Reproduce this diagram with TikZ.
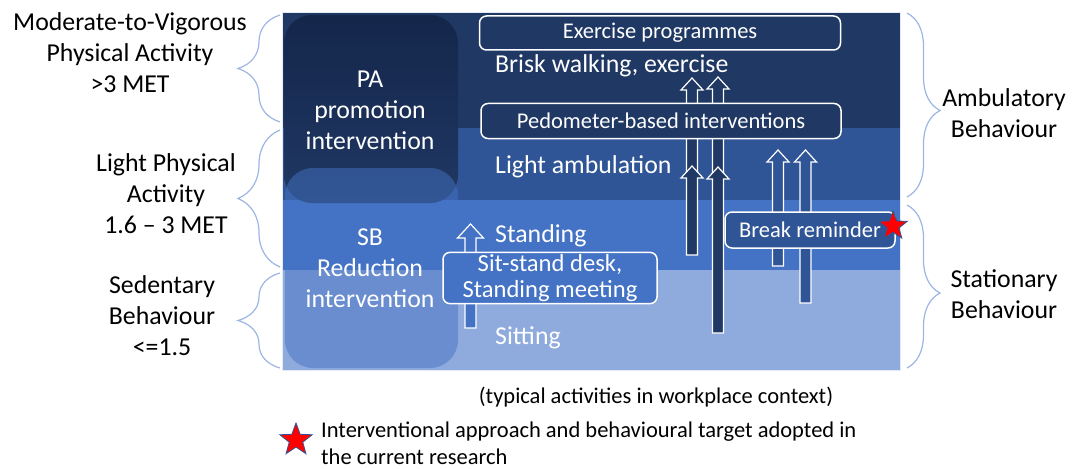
\documentclass[tikz,border=0pt]{standalone}
\usepackage{fontspec}
\setmainfont{Carlito}
\usetikzlibrary{calc,shapes.geometric,decorations.pathreplacing}

\definecolor{navy}{HTML}{203864}
\definecolor{ambu}{HTML}{2F5597}
\definecolor{stand}{HTML}{4472C4}
\definecolor{sit}{HTML}{8FAADC}
\definecolor{padark}{HTML}{14264A}
\definecolor{bracec}{HTML}{9DB5E3}

\newcommand{\lvlfont}{\fontsize{25.8}{31}\selectfont}
\newcommand{\boxfont}{\fontsize{22.5}{27}\selectfont}

\tikzset{
    lbl/.style={align=center, font=\lvlfont, inner sep=1pt},
    lvltxt/.style={lbl, text=white},
    ibox/.style={draw=white, line width=1.5pt, rounded corners=7pt,
        text=white, font=\boxfont, align=center, inner sep=2pt},
    brc/.style={draw=bracec, line width=1.2pt, decorate,
        decoration={brace, amplitude=#1}},
    % block arrow from a bottom point up to its tip: half head width, head length
    blockarr/.style 2 args={draw=white, line width=1.2pt, to path={
        ++(-5.5,0) -- ($(\tikztotarget)+(-5.5,#2)$) -- ($(\tikztotarget)+(-#1,#2)$)
        -- (\tikztotarget) -- ($(\tikztotarget)+(#1,#2)$) -- ($(\tikztotarget)+(5.5,#2)$)
        -- ($(\tikztostart)+(5.5,0)$) -- cycle}},
}

\begin{document}
\begin{tikzpicture}[x=1pt, y=-1pt]
        \useasboundingbox (0,0) rectangle (1075,468);

        % activity levels
        \fill[navy] (282,12) rectangle (900,128);
        \fill[ambu] (282,128) rectangle (900,200);
        \fill[stand] (282,200) rectangle (900,270);
        \fill[sit] (282,270) rectangle (900,370);
        \draw[white!75!sit, line width=0.6pt] (282,12) rectangle (900,370);

        % the two intervention types
        \shade[top color=padark, bottom color=navy, rounded corners=28pt]
            (284,15) rectangle (458,203);
        \fill[stand, fill opacity=0.5, rounded corners=28pt]
            (285,168) rectangle (458,368);
        \node[lvltxt] (pa) at (370,110) {PA\\promotion\\intervention};
        \node[lvltxt] (sb) at (370,268) {SB\\Reduction\\intervention};

        % typical activities
        \node[lvltxt, anchor=west] (brisk) at (494,66) {Brisk walking, exercise};
        \node[lvltxt, anchor=west] (light) at (494,167) {Light ambulation};
        \node[lvltxt, anchor=west] (standing) at (494,236) {Standing};
        \node[lvltxt, anchor=west] (sitting) at (494,338) {Sitting};

        % arrow ends
        \coordinate (sdb) at (470.5,328);  \coordinate (sdt) at (470.5,224);
        \coordinate (u1b) at (692,176);    \coordinate (u1t) at (692,78);
        \coordinate (u2b) at (718,178);    \coordinate (u2t) at (718,77);
        \coordinate (l1b) at (692,255);    \coordinate (l1t) at (692,166);
        \coordinate (l2b) at (718,333);    \coordinate (l2t) at (718,167);
        \coordinate (r1b) at (778,266);    \coordinate (r1t) at (778,150);
        \coordinate (r2b) at (805.5,303);  \coordinate (r2t) at (805.5,150);

        \draw[blockarr={13}{14}, fill=stand] (sdb) to (sdt);
        \draw[blockarr={11}{12}, fill=navy] (u1b) to (u1t);
        \draw[blockarr={11}{12}, fill=navy] (u2b) to (u2t);
        \draw[blockarr={11}{12}, fill=navy] (l1b) to (l1t);
        \draw[blockarr={11}{12}, fill=navy] (l2b) to (l2t);
        \draw[blockarr={11}{12}, fill=ambu] (r1b) to (r1t);
        \draw[blockarr={11}{12}, fill=ambu] (r2b) to (r2t);

        % interventions
        \node[ibox, fill=navy, minimum width=361pt, minimum height=34pt] (exer)
            at (660,33) {Exercise programmes};
        \node[ibox, fill=navy, minimum width=360pt, minimum height=35pt] (pedo)
            at (661,121) {Pedometer-based interventions};
        \node[ibox, fill=stand, minimum width=214pt, minimum height=50pt,
            font=\fontsize{24.6}{26}\selectfont] (desk)
            at (550,278) {Sit-stand desk,\\Standing meeting};
        \node[ibox, fill=ambu, minimum width=170pt, minimum height=36pt] (brk)
            at (810,230) {Break reminder};
        \node[star, star points=5, star point ratio=2.4, fill=red, draw=ambu,
            line width=0.8pt, minimum size=30pt, inner sep=0pt] (tgt) at (893,226) {};

        % intensity braces, left
        \draw[brc=42pt] (280,122) -- (280,15);
        \draw[brc=42pt] (280,267) -- (280,130);
        \draw[brc=42pt] (280,368) -- (280,273);
        \node[lbl] (mvpa) at (130,53) {Moderate-to-Vigorous\\Physical Activity\\>3 MET};
        \node[lbl] (lpa) at (166,194) {Light Physical\\Activity\\1.6 – 3 MET};
        \node[lbl] (sed) at (162,316) {Sedentary\\Behaviour\\<=1.5};

        % posture braces, right
        \draw[brc=33pt, decoration={aspect=0.53}] (907,13) -- (907,197);
        \draw[brc=33pt, decoration={aspect=0.54}] (907,205) -- (907,368);
        \node[lbl] (amb) at (1004,113) {Ambulatory\\Behaviour};
        \node[lbl] (sta) at (1004,294) {Stationary\\Behaviour};

        % caption and key
        \node[lbl, font=\boxfont] (ctx) at (656,397) {(typical activities in workplace context)};
        \node[star, star points=5, star point ratio=2.4, fill=red, draw=ambu,
            line width=0.8pt, minimum size=34pt, inner sep=0pt] (key) at (296,440) {};
        \node[lbl, font=\boxfont, align=left, anchor=west] (keytxt) at (320,443)
            {Interventional approach and behavioural target adopted in\\the current research};
\end{tikzpicture}
\end{document}
